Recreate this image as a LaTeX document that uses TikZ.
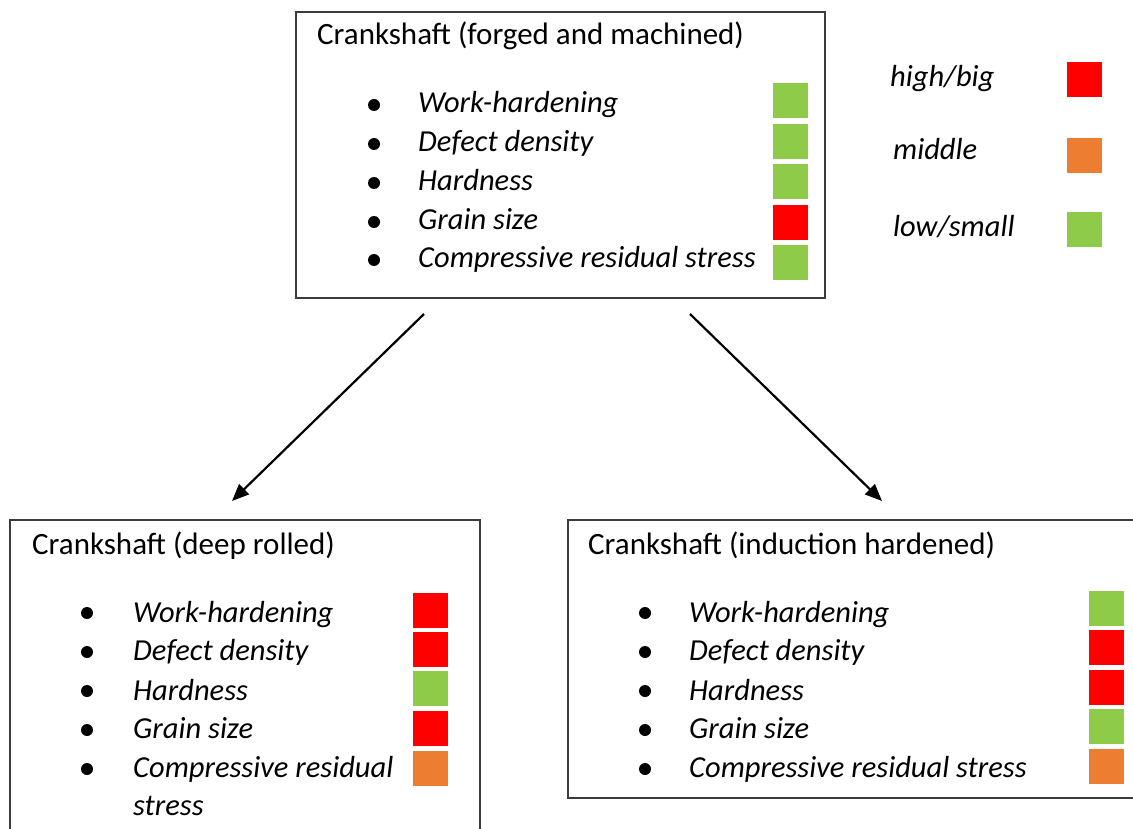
\documentclass[tikz,border=0pt]{standalone}
\usepackage{fontspec}
\setmainfont{Carlito}
\usetikzlibrary{arrows.meta}
\definecolor{cgreen}{HTML}{8DCB48}
\definecolor{cred}{HTML}{FF0000}
\definecolor{corange}{HTML}{ED7D31}
\definecolor{cline}{HTML}{3C3C3C}
\begin{document}
\begin{tikzpicture}[x=1pt,y=-1pt,
  box/.style={draw=cline, line width=2pt, anchor=north west, inner sep=0pt, fill=none},
  txt/.style={anchor=base west, inner sep=0pt, font=\fontsize{31}{37}\selectfont, text=black},
  itxt/.style={anchor=base west, inner sep=0pt, font=\fontsize{30.5}{36}\selectfont\itshape, text=black},
  dot/.style={circle, fill=black, inner sep=0pt, minimum size=12pt},
  sq/.style={anchor=north west, inner sep=0pt, minimum size=35pt, draw=none},
  conn/.style={line width=2.2pt, draw=black, -{Triangle[length=17pt,width=14pt]}}
]
\useasboundingbox (0,0) rectangle (1133,829);
\clip (0,0) rectangle (1133,829);
\fill[white] (0,0) rectangle (1133,829);

% ---------- top box ----------
\node[box, minimum width=529pt, minimum height=286pt] (topbox) at (295,11) {};
\node[txt] (ttitle) at (317,45) {Crankshaft (forged and machined)};
\node[dot] (tb1) at (374,105) {};
\node[dot] (tb2) at (374,144) {};
\node[dot] (tb3) at (374,183) {};
\node[dot] (tb4) at (374,222) {};
\node[dot] (tb5) at (374,260) {};
\node[itxt] (tt1) at (418,113) {Work-hardening};
\node[itxt] (tt2) at (418,152) {Defect density};
\node[itxt] (tt3) at (418,191) {Hardness};
\node[itxt] (tt4) at (418,230) {Grain size};
\node[itxt] (tt5) at (418,268) {Compressive residual stress};
\node[sq, fill=cgreen] (ts1) at (773,83) {};
\node[sq, fill=cgreen] (ts2) at (773,123.5) {};
\node[sq, fill=cgreen] (ts3) at (773,164) {};
\node[sq, fill=cred]   (ts4) at (773,204.5) {};
\node[sq, fill=cgreen] (ts5) at (773,245) {};

% ---------- legend ----------
\node[itxt] (l1) at (890,87) {high/big};
\node[itxt] (l2) at (893,160) {middle};
\node[itxt] (l3) at (893,237) {low/small};
\node[sq, fill=cred]    (ls1) at (1067,62) {};
\node[sq, fill=corange] (ls2) at (1067,138) {};
\node[sq, fill=cgreen]  (ls3) at (1067,212) {};

% ---------- bottom left box ----------
\node[box, minimum width=470pt, minimum height=340pt] (lbox) at (9,519) {};
\node[txt] (ltitle) at (32,554) {Crankshaft (deep rolled)};
\node[dot] (lb1) at (87,613) {};
\node[dot] (lb2) at (87,652) {};
\node[dot] (lb3) at (87,691) {};
\node[dot] (lb4) at (87,730) {};
\node[dot] (lb5) at (87,769) {};
\node[itxt] (lt1) at (133,622) {Work-hardening};
\node[itxt] (lt2) at (133,660) {Defect density};
\node[itxt] (lt3) at (133,700) {Hardness};
\node[itxt] (lt4) at (133,738) {Grain size};
\node[itxt] (lt5) at (133,777) {Compressive residual};
\node[itxt] (lt6) at (133,815) {stress};
\node[sq, fill=cred]    (lsq1) at (413,593) {};
\node[sq, fill=cred]    (lsq2) at (413,632) {};
\node[sq, fill=cgreen]  (lsq3) at (413,671) {};
\node[sq, fill=cred]    (lsq4) at (413,711) {};
\node[sq, fill=corange] (lsq5) at (413,751) {};

% ---------- bottom right box ----------
\node[box, minimum width=590pt, minimum height=278pt] (rbox) at (567,519) {};
\node[txt] (rtitle) at (588,554) {Crankshaft (induction hardened)};
\node[dot] (rb1) at (645,613) {};
\node[dot] (rb2) at (645,652) {};
\node[dot] (rb3) at (645,691) {};
\node[dot] (rb4) at (645,730) {};
\node[dot] (rb5) at (645,769) {};
\node[itxt] (rt1) at (689,622) {Work-hardening};
\node[itxt] (rt2) at (689,660) {Defect density};
\node[itxt] (rt3) at (689,700) {Hardness};
\node[itxt] (rt4) at (689,738) {Grain size};
\node[itxt] (rt5) at (689,777) {Compressive residual stress};
\node[sq, fill=cgreen]  (rsq1) at (1089,591) {};
\node[sq, fill=cred]    (rsq2) at (1089,630) {};
\node[sq, fill=cred]    (rsq3) at (1089,669.5) {};
\node[sq, fill=cgreen]  (rsq4) at (1089,709) {};
\node[sq, fill=corange] (rsq5) at (1089,748.5) {};

% ---------- connectors ----------
\coordinate (a1s) at (424,314);
\coordinate (a1e) at (232,501);
\coordinate (a2s) at (690,314);
\coordinate (a2e) at (882,501);
\draw[conn] (a1s) -- (a1e);
\draw[conn] (a2s) -- (a2e);
\end{tikzpicture}
\end{document}
